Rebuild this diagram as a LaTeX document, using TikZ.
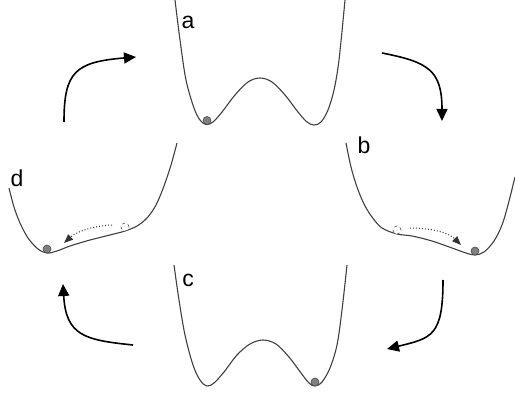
\documentclass[tikz,border=0pt]{standalone}
\usepackage{fontspec}
\setmainfont{Liberation Sans}
\usetikzlibrary{arrows.meta}
\begin{document}
\begin{tikzpicture}[x=1pt,y=-1pt,
  well/.style={draw=black!75, line width=1.1pt, smooth, tension=0.55},
  cyclearrow/.style={draw=black, line width=1.6pt, -{Triangle[length=12pt,width=11pt]}},
  slidearrow/.style={draw=black!80, line width=1pt, dotted, -{Triangle[length=9pt,width=7pt]}},
  ball/.style={circle, draw=black!70, fill=black!50, line width=0.6pt, minimum size=8pt, inner sep=0pt},
  ghost/.style={circle, draw=black!70, dashed, line width=0.6pt, fill=white, minimum size=8pt, inner sep=0pt},
  lbl/.style={font=\fontsize{23}{23}\selectfont, inner sep=0pt}]
\useasboundingbox (0,0) rectangle (515,393);

% well a
\draw[well] plot coordinates {(175,0) (180,40) (186,80) (194,108) (200,120) (206,124.5) (213,122) (222,112) (235,95) (248,82) (260,78) (272,82) (285,95) (298,112) (307,122) (314,125) (321,122) (328,110) (334,90) (339,60) (345,0)};
% well c
\draw[well] plot coordinates {(174,265) (179,300) (185,335) (193,365) (200,380) (207,386) (214,383) (224,372) (237,355) (250,344) (263,340) (276,344) (289,357) (301,373) (309,383) (315,386) (322,382) (330,368) (337,345) (342,310) (347,265)};
% well d
\draw[well] plot coordinates {(9,188) (14,207) (20,223) (28,238) (38,249) (47,253) (57,251) (70,246) (90,240) (110,235) (125,231) (137,226) (147,218) (156,205) (164,186) (171,165) (177,143)};
% well b
\draw[well] plot coordinates {(346,143) (351,167) (357,187) (364,204) (372,217) (382,228) (397,234) (412,236) (432,241) (452,248) (466,253) (475,255) (484,252) (494,241) (502,225) (508,205) (515,177)};

% labels
\node[lbl] (la) at (188,22) {a};
\node[lbl] (lb) at (364,145) {b};
\node[lbl] (lc) at (188,280) {c};
\node[lbl] (ld) at (17,178) {d};

% balls
\node[ball] (ba) at (207,120.5) {};
\node[ball] (bc) at (315,382) {};
\node[ball] (bb) at (475,251) {};
\node[ball] (bd) at (47,249) {};
\node[ghost] (gb) at (397,230) {};
\node[ghost] (gd) at (125,227) {};

% sliding arrows
\coordinate (sbs) at (410,228);
\coordinate (sbe) at (461,245);
\coordinate (sds) at (112,225);
\coordinate (sde) at (64,243);
\draw[slidearrow] (sbs) .. controls (435,228) and (450,234) .. (sbe);
\draw[slidearrow] (sds) .. controls (90,226) and (75,233) .. (sde);

% cycle arrows
\coordinate (t1s) at (64,122);
\coordinate (t1e) at (136,57);
\coordinate (t2s) at (382,53);
\coordinate (t2e) at (442,121);
\coordinate (t3s) at (443,280);
\coordinate (t3e) at (387,349);
\coordinate (t4s) at (133,345);
\coordinate (t4e) at (63,284);
\draw[cyclearrow] (t1s) .. controls (64,72) and (75,62) .. (t1e);
\draw[cyclearrow] (t2s) .. controls (428,62) and (442,70) .. (t2e);
\draw[cyclearrow] (t3s) .. controls (443,336) and (432,338) .. (t3e);
\draw[cyclearrow] (t4s) .. controls (85,340) and (66,336) .. (t4e);
\end{tikzpicture}
\end{document}
